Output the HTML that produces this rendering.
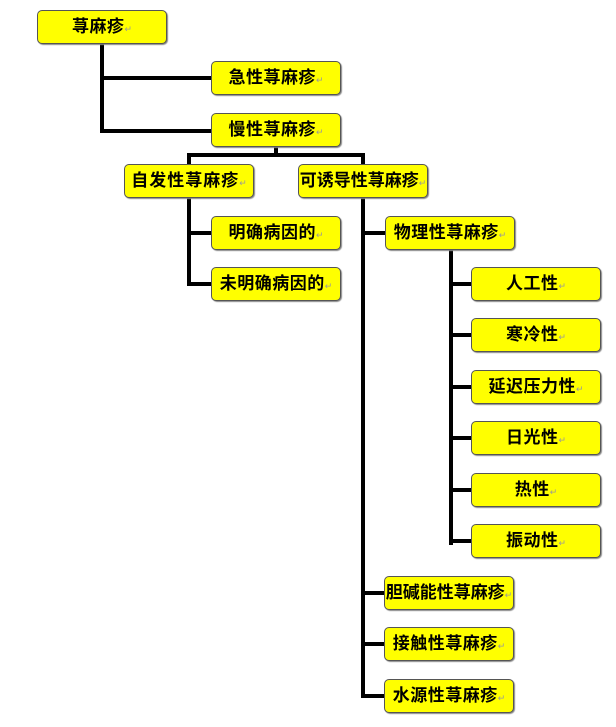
<!DOCTYPE html>
<html><head><meta charset="utf-8"><style>
body{margin:0;width:616px;height:727px;background:#fff;position:relative;overflow:hidden;font-family:"Liberation Sans","Noto Sans CJK SC",sans-serif;}
.b{position:absolute;width:128px;height:32px;background:#ffff00;border:1px solid #555;border-radius:5px;box-shadow:1px 1px 1px #888;font-weight:bold;font-size:17px;line-height:32px;text-align:center;color:#000;white-space:nowrap;letter-spacing:0.5px;}
.b i{font-style:normal;font-size:9px;color:#999;font-weight:normal;letter-spacing:0;}
.l{position:absolute;background:#000;}
</style></head><body>
<div class="l" style="left:100px;top:44px;width:4px;height:89px"></div>
<div class="l" style="left:100px;top:76px;width:112px;height:4px"></div>
<div class="l" style="left:100px;top:129px;width:112px;height:4px"></div>
<div class="l" style="left:274px;top:147px;width:4px;height:8px"></div>
<div class="l" style="left:187px;top:153px;width:178px;height:4px"></div>
<div class="l" style="left:187px;top:153px;width:4px;height:12px"></div>
<div class="l" style="left:361px;top:153px;width:4px;height:12px"></div>
<div class="l" style="left:187px;top:198px;width:4px;height:88px"></div>
<div class="l" style="left:187px;top:231px;width:25px;height:4px"></div>
<div class="l" style="left:187px;top:282px;width:25px;height:4px"></div>
<div class="l" style="left:361px;top:198px;width:4px;height:499px"></div>
<div class="l" style="left:361px;top:231px;width:25px;height:4px"></div>
<div class="l" style="left:361px;top:591px;width:25px;height:4px"></div>
<div class="l" style="left:361px;top:642px;width:25px;height:4px"></div>
<div class="l" style="left:361px;top:694px;width:25px;height:4px"></div>
<div class="l" style="left:449px;top:250px;width:4px;height:295px"></div>
<div class="l" style="left:449px;top:282px;width:23px;height:4px"></div>
<div class="l" style="left:449px;top:333px;width:23px;height:4px"></div>
<div class="l" style="left:449px;top:385px;width:23px;height:4px"></div>
<div class="l" style="left:449px;top:436px;width:23px;height:4px"></div>
<div class="l" style="left:449px;top:488px;width:23px;height:4px"></div>
<div class="l" style="left:449px;top:539px;width:23px;height:4px"></div>

<div class="b" style="left:37px;top:10px">荨麻疹<i>↵</i></div>
<div class="b" style="left:211px;top:61px">急性荨麻疹<i>↵</i></div>
<div class="b" style="left:211px;top:113px">慢性荨麻疹<i>↵</i></div>
<div class="b" style="left:124px;top:164px;letter-spacing:1px">自发性荨麻疹<i>↵</i></div>
<div class="b" style="left:298px;top:164px;letter-spacing:0">可诱导性荨麻疹<i>↵</i></div>
<div class="b" style="left:211px;top:216px">明确病因的<i>↵</i></div>
<div class="b" style="left:211px;top:267px">未明确病因的<i>↵</i></div>
<div class="b" style="left:385px;top:216px">物理性荨麻疹<i>↵</i></div>
<div class="b" style="left:471px;top:267px">人工性<i>↵</i></div>
<div class="b" style="left:471px;top:318px">寒冷性<i>↵</i></div>
<div class="b" style="left:471px;top:370px">延迟压力性<i>↵</i></div>
<div class="b" style="left:471px;top:421px">日光性<i>↵</i></div>
<div class="b" style="left:471px;top:473px">热性<i>↵</i></div>
<div class="b" style="left:471px;top:524px">振动性<i>↵</i></div>
<div class="b" style="left:384px;top:576px;letter-spacing:0">胆碱能性荨麻疹<i>↵</i></div>
<div class="b" style="left:384px;top:627px">接触性荨麻疹<i>↵</i></div>
<div class="b" style="left:384px;top:679px">水源性荨麻疹<i>↵</i></div>
</body></html>
